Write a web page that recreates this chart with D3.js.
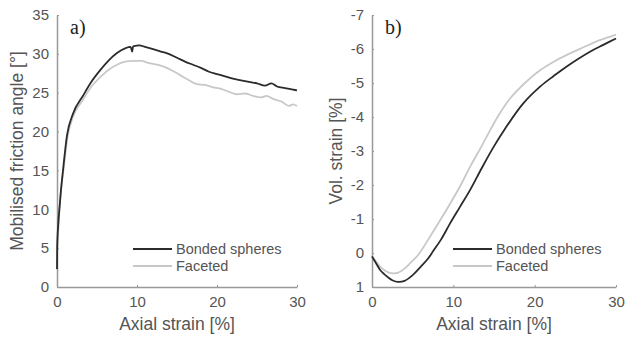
<!DOCTYPE html>
<html>
<head>
<meta charset="utf-8">
<script src="https://cdn.jsdelivr.net/npm/d3@7"></script>
<style>
  body { margin: 0; background: #fff; }
  svg { display: block; }
  text { font-family: Arial, "Liberation Sans", sans-serif; fill: #555; }
</style>
</head>
<body>
<div id="chart"></div>
<script>
// panel a) mobilised friction angle vs axial strain
const strainA1 = [0, 0.02, 0.15, 0.3, 0.5, 0.75, 1.25, 2, 3.25, 4.3, 5.4, 6.5, 7.5, 8.5, 9.2, 9.4, 9.5, 9.6, 10.3, 11, 12, 13, 13.7, 15, 16, 17, 18, 19, 20, 21, 22, 23, 24, 25, 26, 26.8, 27.5, 28.5, 29.5, 30];
const phiBonded = [2.3, 5, 8, 10, 12.5, 15, 19.5, 22.3, 24.6, 26.4, 27.9, 29.2, 30.1, 30.7, 30.9, 30.3, 30.9, 31.0, 31.1, 30.9, 30.6, 30.3, 30.1, 29.5, 29.0, 28.6, 28.2, 27.7, 27.4, 27.1, 26.8, 26.6, 26.4, 26.2, 25.9, 26.2, 25.8, 25.6, 25.4, 25.3];
const strainA2 = [0.05, 0.3, 0.8, 1.3, 2, 3.25, 4.3, 5.4, 6.5, 7.5, 8.5, 9.5, 10.5, 11.5, 12.5, 13.5, 14.5, 15.5, 16.5, 17.5, 18.5, 19.5, 20.5, 21.5, 22.5, 23.5, 24.5, 25.5, 26.2, 27, 28, 29, 29.5, 30];
const phiFaceted = [5, 10, 15, 19.2, 21.9, 24.1, 25.8, 27, 28, 28.6, 29, 29.1, 29.1, 28.8, 28.6, 28.3, 27.8, 27.2, 26.6, 26.1, 26.0, 25.7, 25.5, 25.1, 24.8, 24.9, 24.6, 24.4, 24.6, 24.2, 23.9, 23.3, 23.5, 23.3];
const ticksA = [0, 5, 10, 15, 20, 25, 30, 35];

// panel b) volumetric strain vs axial strain
const strainB1 = [0, 0.5, 1, 1.5, 2, 2.5, 3.2, 4, 5, 6, 6.9, 7.5, 8.5, 9.6, 10.8, 12.05, 13.5, 14.9, 16.4, 18.6, 20.7, 22.3, 23.9, 26.8, 28.5, 30];
const volBonded = [0.1, 0.3, 0.5, 0.62, 0.72, 0.8, 0.85, 0.82, 0.65, 0.4, 0.16, -0.05, -0.4, -0.87, -1.35, -1.85, -2.5, -3.1, -3.67, -4.4, -4.9, -5.2, -5.48, -5.92, -6.13, -6.31];
const strainB2 = [0, 0.5, 1, 1.5, 2, 2.6, 3.2, 4, 4.8, 5.7, 7, 8.4, 9.6, 10.8, 12.2, 13.5, 14.5, 15.7, 17, 18.8, 20.7, 22.3, 23.9, 26, 28, 29, 30];
const volFaceted = [0.1, 0.25, 0.4, 0.5, 0.57, 0.6, 0.58, 0.46, 0.27, 0.05, -0.43, -0.97, -1.45, -1.95, -2.6, -3.15, -3.6, -4.1, -4.55, -5.0, -5.38, -5.62, -5.82, -6.05, -6.26, -6.34, -6.42];
const ticksB = [-7, -6, -5, -4, -3, -2, -1, 0, 1];

const xTicks = [0, 10, 20, 30];
const seriesNames = ["Bonded spheres", "Faceted"];
const seriesColors = ["#2b2b2b", "#c8c8c8"];

const W = 625, H = 341;
const svg = d3.select("#chart").append("svg").attr("width", W).attr("height", H);

function panel(opt) {
  const x = d3.scaleLinear().domain([0, 30]).range([opt.x0, opt.x1]);
  const y = d3.scaleLinear().domain(opt.yDomain).range([287, 15]);
  const g = svg.append("g");

  const xAxis = g.append("g").attr("transform", "translate(0,287)")
    .call(d3.axisBottom(x).tickValues(xTicks).tickFormat(d => String(d))
      .tickSizeInner(-2).tickSizeOuter(0).tickPadding(9));
  const yAxis = g.append("g").attr("transform", "translate(" + opt.x0 + ",0)")
    .call(d3.axisLeft(y).tickValues(opt.ticks).tickFormat(d => String(d))
      .tickSizeInner(-2).tickSizeOuter(0).tickPadding(8));
  [xAxis, yAxis].forEach(a => {
    a.select(".domain").attr("stroke", "#999").attr("stroke-width", 1.5);
    a.selectAll(".tick line").attr("stroke", "#999");
    a.selectAll(".tick text").attr("fill", "#555").style("font-size", "15px")
      .style("font-family", "Arial, 'Liberation Sans', sans-serif");
  });

  const line = d3.line().x(d => x(d[0])).y(d => y(d[1])).curve(opt.curve);
  // faceted first, bonded on top
  [[opt.xs[1], opt.ys[1], seriesColors[1]], [opt.xs[0], opt.ys[0], seriesColors[0]]].forEach(s => {
    g.append("path")
      .datum(s[0].map((v, i) => [v, s[1][i]]))
      .attr("fill", "none").attr("stroke", s[2]).attr("stroke-width", 1.8)
      .attr("d", line);
  });

  // legend
  seriesNames.forEach((n, i) => {
    const ly = 249 + i * 17;
    g.append("line").attr("x1", opt.legX).attr("x2", opt.legX + 39)
      .attr("y1", ly).attr("y2", ly).attr("stroke", seriesColors[i]).attr("stroke-width", 2);
    g.append("text").attr("x", opt.legX + 43).attr("y", ly + 5)
      .style("font-size", "14.5px").text(n);
  });

  g.append("text").attr("x", (opt.x0 + opt.x1) / 2).attr("y", 330)
    .attr("text-anchor", "middle").style("font-size", "17.5px").text("Axial strain [%]");
  g.append("text").attr("transform", "translate(" + opt.yLabX + ",151) rotate(-90)")
    .attr("text-anchor", "middle").style("font-size", "17.5px").text(opt.yLabel);
  g.append("text").attr("x", opt.x0 + 13).attr("y", 34)
    .style("font-family", "'Liberation Serif', 'Times New Roman', serif")
    .style("font-size", "20px").style("fill", "#222").text(opt.tag);
}

panel({x0: 57, x1: 297, yDomain: [0, 35], ticks: ticksA,
  xs: [strainA1, strainA2], ys: [phiBonded, phiFaceted], curve: d3.curveMonotoneX,
  legX: 133, yLabX: 23, yLabel: "Mobilised friction angle [°]", tag: "a)"});
panel({x0: 372, x1: 616, yDomain: [1, -7], ticks: ticksB,
  xs: [strainB1, strainB2], ys: [volBonded, volFaceted], curve: d3.curveCatmullRom.alpha(0.5),
  legX: 453, yLabX: 342, yLabel: "Vol. strain [%]", tag: "b)"});
</script>
</body>
</html>
